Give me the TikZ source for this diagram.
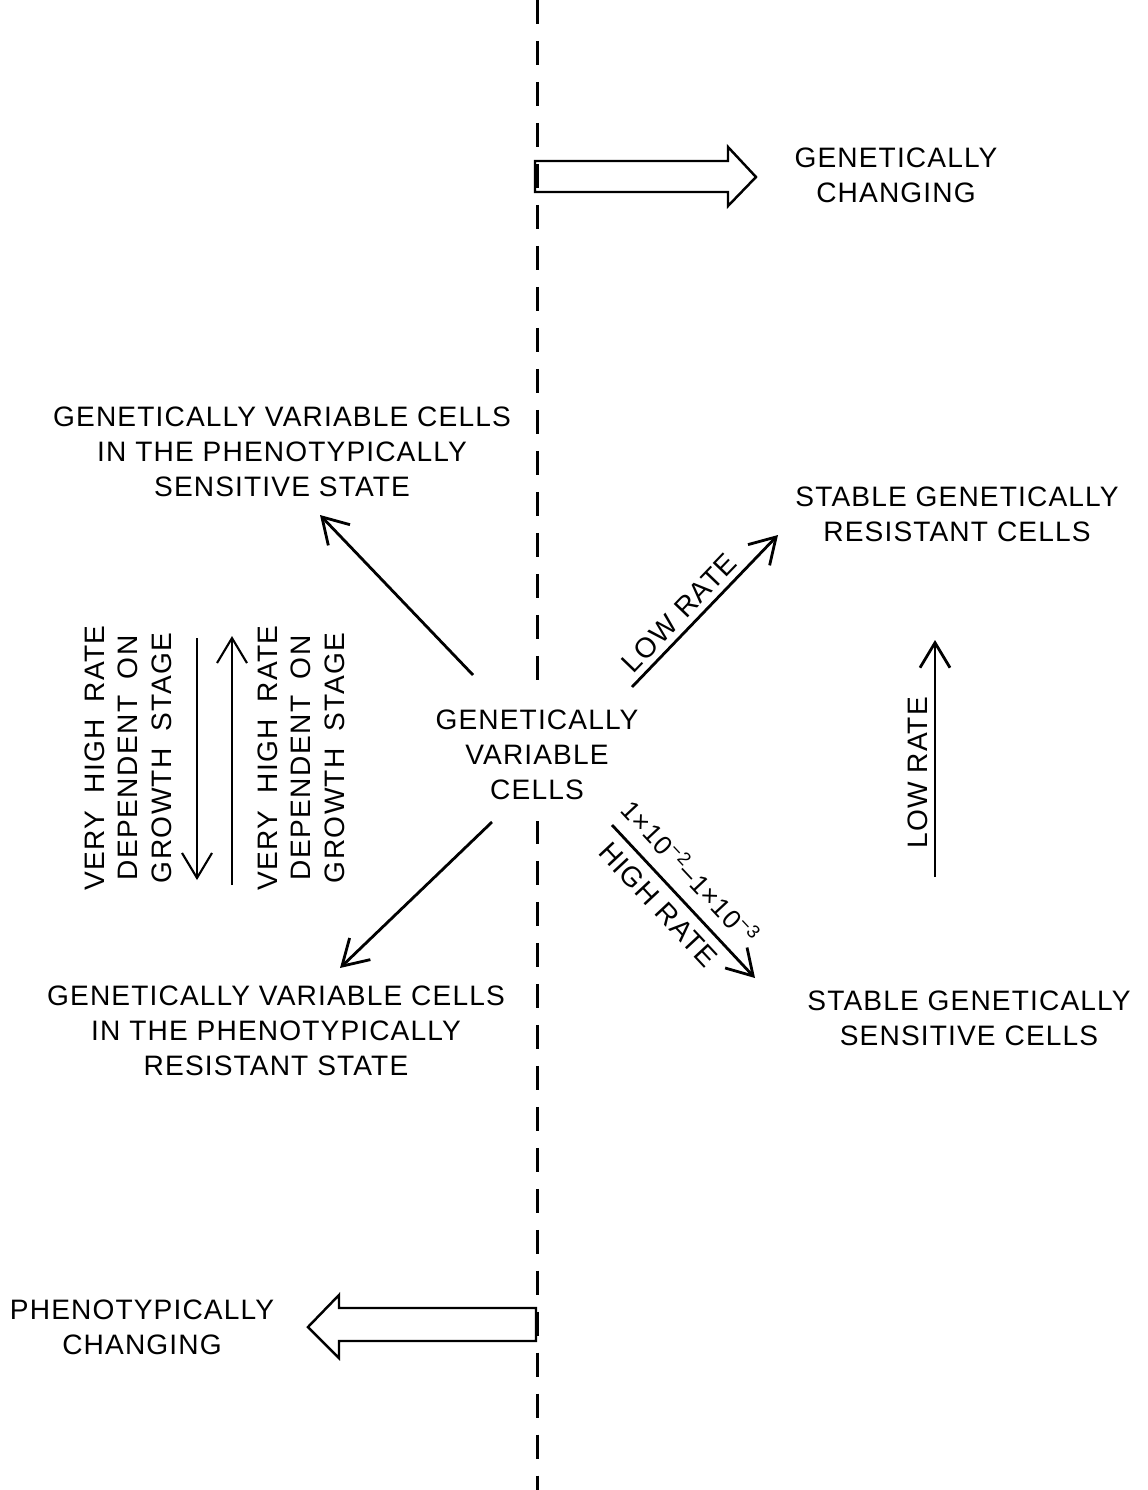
\documentclass[tikz,border=0pt]{standalone}
\usepackage{fontspec}
\setmainfont[LetterSpace=4]{Liberation Sans}
\newfontfamily\vertfont[LetterSpace=5, WordSpace=1.8]{Liberation Sans}
\usetikzlibrary{arrows.meta}

\begin{document}
\begin{tikzpicture}[
	x=0.02cm, y=-0.02cm,
	every node/.style={font=\fontsize{16}{20}\selectfont, align=center},
	rate/.style={line width=1.6pt, -{Straight Barb[length=0.5cm,width=0.6cm]}},
	block/.style={line width=1.4pt, line join=miter},
	vert/.style={rotate=90, font=\vertfont\fontsize{16}{19}\selectfont}
]
\useasboundingbox (0,0) rectangle (1147,1490);

%% Draw the dividing line
\coordinate (top) at (537,0);
\coordinate (bottom) at (537,1490);
\draw[line width=1.7pt, dash pattern=on 0.48cm off 0.34cm] (top) -- (bottom);

%% Draw cell states
\node[fill=white, inner sep=12pt] (var) at (537,755) {GENETICALLY\\VARIABLE\\CELLS};
\node (vps) at (282,452) {GENETICALLY VARIABLE CELLS\\IN THE PHENOTYPICALLY\\SENSITIVE STATE};
\node (vpr) at (276,1031) {GENETICALLY VARIABLE CELLS\\IN THE PHENOTYPICALLY\\RESISTANT STATE};
\node (sgr) at (957,514) {STABLE GENETICALLY\\RESISTANT CELLS};
\node (sgs) at (969,1018) {STABLE GENETICALLY\\SENSITIVE CELLS};
\node (gen) at (896,175) {GENETICALLY\\CHANGING};
\node (phen) at (142,1327) {PHENOTYPICALLY\\CHANGING};
\node[vert] (vh1) at (128,758) {VERY HIGH RATE\\DEPENDENT ON\\GROWTH STAGE};
\node[vert] (vh2) at (301,758) {VERY HIGH RATE\\DEPENDENT ON\\GROWTH STAGE};

%% Block arrows
\draw[block] (535,161) -- (728,161) -- (728,147) -- (756,177) -- (728,206) -- (728,192) -- (535,192) -- cycle;
\draw[block] (536,1308) -- (339,1308) -- (339,1295) -- (308,1327) -- (339,1358) -- (339,1341) -- (536,1341) -- cycle;

%% Arrow ends
\coordinate (ul0) at (473,675);  \coordinate (ul1) at (320,515);
\coordinate (ur0) at (632,687);  \coordinate (ur1) at (778,535);
\coordinate (dr0) at (612,825);  \coordinate (dr1) at (755,978);
\coordinate (dl0) at (492,822);  \coordinate (dl1) at (340,968);
\coordinate (rv0) at (935,877);  \coordinate (rv1) at (935,640);
\coordinate (ld0) at (197,638);  \coordinate (ld1) at (197,880);
\coordinate (lu0) at (232,885);  \coordinate (lu1) at (232,636);

%% Transitions
\draw[rate] (ul0) -- (ul1);
\draw[rate] (dl0) -- (dl1);
\draw[rate] (ur0) -- node[sloped, above, pos=0.41] {LOW RATE} (ur1);
\draw[rate] (dr0) --
	node[sloped, above=4pt, pos=0.42, font=\fontsize{15}{18}\selectfont] {1×10\textsuperscript{−2}–1×10\textsuperscript{−3}}
	node[sloped, below=2pt, pos=0.43] {HIGH RATE} (dr1);
\draw[rate] (rv0) -- node[sloped, above, pos=0.44] {LOW RATE} (rv1);
\draw[rate, line width=1.2pt] (ld0) -- (ld1);
\draw[rate, line width=1.2pt] (lu0) -- (lu1);

\end{tikzpicture}
\end{document}
